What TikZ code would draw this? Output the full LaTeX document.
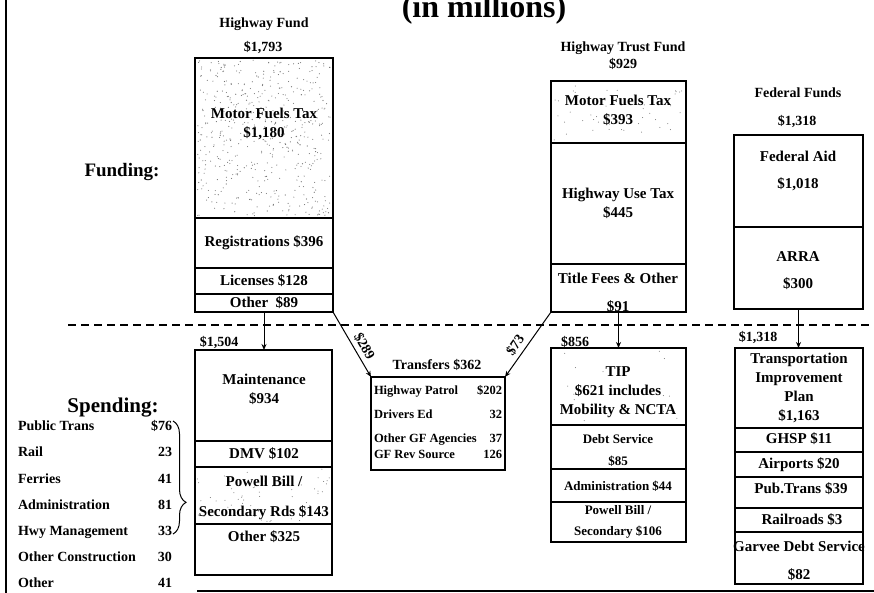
\documentclass[tikz,border=0pt]{standalone}
\usepackage{fontspec}
\setmainfont{Liberation Serif}
\usetikzlibrary{arrows.meta,decorations.pathreplacing}

\begin{document}
\begin{tikzpicture}[x=1pt,y=-1pt,
        box/.style={draw,line width=1.2pt,inner sep=0pt,outer sep=0pt},
        cellText/.style={align=center,inner sep=1pt,font=\fontsize{15}{19}\selectfont\bfseries},
        headText/.style={align=center,inner sep=1pt,font=\fontsize{14}{16}\selectfont\bfseries},
        smallText/.style={align=center,inner sep=1pt,font=\fontsize{12.5}{15}\selectfont\bfseries},
        tipText/.style={align=center,inner sep=1pt,font=\fontsize{13}{16}\selectfont\bfseries},
        arr/.style={line width=1pt,-{Stealth[length=6pt,width=5pt]}},
        speck/.style={fill=black!55}]
            % Page and frame
            \useasboundingbox (0,0) rectangle (874,593);
            \clip (0,0) rectangle (874,593);
            \fill[white] (0,0) rectangle (874,593);
            \draw[line width=2.2pt] (6,0) -- (6,593);
            \draw[line width=1.5pt] (197,591) -- (874,591);
            % Title (top line cut off)
            \node[font=\fontsize{32}{36}\selectfont\bfseries,anchor=base] (title) at (484,18) {(in millions)};
            % Stippled sections
            \pgfmathsetseed{11}
            \foreach \k in {1,...,520}
                \fill[speck] ({197+134*rnd},{60+156*rnd}) circle (0.55pt);
            \foreach \k in {1,...,45}
                \fill[speck] ({553+131*rnd},{83+58*rnd}) circle (0.5pt);
            \foreach \k in {1,...,60}
                \fill[speck] ({197+133*rnd},{469+53*rnd}) circle (0.5pt);
            \foreach \k in {1,...,15}
                \fill[speck] ({553+131*rnd},{350+73*rnd}) circle (0.5pt);
            % Funding / spending split
            \node[font=\fontsize{19}{22}\selectfont\bfseries] (fundLbl) at (122,172) {Funding:};
            \draw[line width=1.5pt,dash pattern=on 8pt off 5pt] (68,325) -- (874,325);
            % Highway Fund
            \node[headText] (hfHead) at (264,24) {Highway Fund};
            \node[headText] (hfTotal) at (263,48) {\$1,793};
            \node[box,minimum width=138,minimum height=254] (hf) at (264,185) {};
            \foreach \yy in {218,268,294}
                \draw[line width=1.2pt] (195,\yy) -- (333,\yy);
            \node[cellText] (hfMotorT) at (264,124) {Motor Fuels Tax\\\$1,180};
            \node[cellText] (hfRegT) at (264,243) {Registrations \$396};
            \node[cellText] (hfLicT) at (264,281) {Licenses \$128};
            \node[cellText] (hfOthT) at (264,303) {Other \ \$89};
            % Highway Trust Fund
            \node[headText] (htHead) at (623,48) {Highway Trust Fund};
            \node[headText] (htTotal) at (623,64) {\$929};
            \node[box,minimum width=135,minimum height=231] (ht) at (618.5,196.5) {};
            \foreach \yy in {143,264}
                \draw[line width=1.2pt] (551,\yy) -- (686,\yy);
            \node[cellText] (htMotorT) at (618,110) {Motor Fuels Tax\\\$393};
            \node[cellText] (htUseT) at (618,203) {Highway Use Tax\\\$445};
            \node[cellText] (htTitleT) at (618,293) {Title Fees \& Other\\[9pt]\$91};
            % Federal Funds
            \node[headText] (ffHead) at (798,93) {Federal Funds};
            \node[headText] (ffTotal) at (797,122) {\$1,318};
            \node[box,minimum width=129,minimum height=174] (ff) at (798.5,222) {};
            \draw[line width=1.2pt] (734,227) -- (863,227);
            \node[cellText] (ffAidT) at (798,171) {Federal Aid\\[8pt]\$1,018};
            \node[cellText] (ffArraT) at (798,271) {ARRA\\[8pt]\$300};
            % Spending list
            \node[font=\fontsize{21}{24}\selectfont\bfseries] (spendLbl) at (113,408) {Spending:};
            \node[font=\fontsize{14}{16.8}\selectfont\bfseries,inner sep=0pt] (spList) at (95,504) {\renewcommand{\arraystretch}{1.56}%
                \begin{tabular*}{154pt}{@{}l@{\extracolsep{\fill}}r@{}}
                    Public Trans & \$76\\
                    Rail & 23\\
                    Ferries & 41\\
                    Administration & 81\\
                    Hwy Management & 33\\
                    Other Construction & 30\\
                    Other & 41
                \end{tabular*}};
            \draw[line width=1pt,decorate,decoration={brace,amplitude=13pt,aspect=0.72}] (173,421) -- (173,534);
            % Highway Fund spending
            \node[headText] (spTotal) at (219,343) {\$1,504};
            \node[box,minimum width=137,minimum height=225] (sp) at (263.5,462.5) {};
            \foreach \yy in {441,467,524}
                \draw[line width=1.2pt] (195,\yy) -- (332,\yy);
            \node[cellText] (spMaintT) at (264,389) {Maintenance\\\$934};
            \node[cellText] (spDmvT) at (264,454) {DMV \$102};
            \node[cellText] (spPowT) at (264,498) {Powell Bill /\\[11pt]Secondary Rds \$143};
            \node[cellText] (spOthT) at (264,537) {Other \$325};
            % Transfers
            \node[headText] (trHead) at (437,365) {Transfers \$362};
            \node[box,smallText,minimum width=134,minimum height=93] (tr) at (438,423.5) {%
                \begin{tabular*}{128pt}{@{}l@{\extracolsep{\fill}}r@{}}
                    Highway Patrol & \$202\\[9pt]
                    Drivers Ed & 32\\[9pt]
                    Other GF Agencies & 37\\[1pt]
                    GF Rev Source & 126
                \end{tabular*}};
            % Trust Fund spending (TIP)
            \node[headText] (tipTotal) at (575,342) {\$856};
            \node[box,minimum width=135,minimum height=194] (tip) at (618.5,445) {};
            \foreach \yy in {425,469,502}
                \draw[line width=1.2pt] (551,\yy) -- (686,\yy);
            \node[cellText] (tipTopT) at (618,392) {TIP\\\$621 includes\\Mobility \& NCTA};
            \node[tipText] (tipDebtT) at (618,450) {Debt Service\\[6pt]\$85};
            \node[tipText] (tipAdmT) at (618,486) {Administration \$44};
            \node[tipText] (tipPowT) at (618,522) {Powell Bill /\\[5pt]Secondary \$106};
            % Federal spending
            \node[headText] (tpTotal) at (758,338) {\$1,318};
            \node[box,minimum width=128,minimum height=236] (tp) at (799,466) {};
            \foreach \yy in {428,452,477,508,532}
                \draw[line width=1.2pt] (735,\yy) -- (863,\yy);
            \node[cellText] (tpTopT) at (799,388) {Transportation\\Improvement\\Plan\\\$1,163};
            \node[cellText] (tpGhspT) at (799,439) {GHSP \$11};
            \node[cellText] (tpAirT) at (799,465) {Airports \$20};
            \node[cellText] (tpPubT) at (801,489) {Pub.Trans \$39};
            \node[cellText] (tpRailT) at (802,520) {Railroads \$3};
            \node[cellText] (tpGarT) at (799,561) {Garvee Debt Service\\[9pt]\$82};
            % Flows
            \draw[arr] (hf.south) -- (hf.south |- sp.north);
            \draw[arr] (ht.south) -- (ht.south |- tip.north);
            \draw[arr] (ff.south) -- (ff.south |- tp.north);
            \draw[arr] (hf.south east) -- node[headText,sloped,above=3pt,pos=0.6] (lbl289) {\$289} (tr.north west);
            \draw[arr] (ht.south west) -- node[headText,sloped,above=3pt,pos=0.6] (lbl73) {\$73} (tr.north east);
        \end{tikzpicture}
\end{document}
